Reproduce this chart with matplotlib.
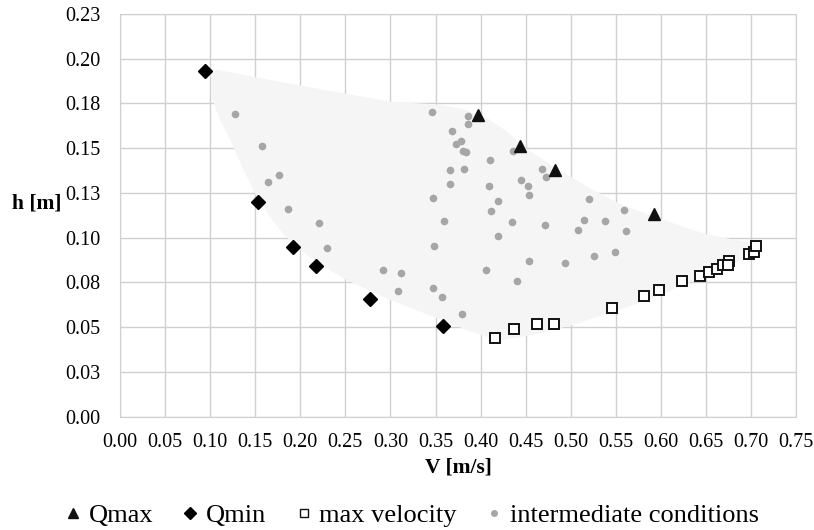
import numpy as np
import matplotlib
matplotlib.use('Agg')
import matplotlib.pyplot as plt
from matplotlib.lines import Line2D

plt.rcParams['font.family'] = ['Liberation Serif', 'DejaVu Serif']

# Qmax / Qmin / max velocity / intermediate conditions, V [m/s] vs h [m]
qmax_v = [0.397, 0.444, 0.483, 0.592]
qmax_h = [0.1685, 0.151, 0.138, 0.1132]

qmin_v = [0.094, 0.153, 0.192, 0.2175, 0.277, 0.358]
qmin_h = [0.193, 0.1197, 0.0948, 0.0843, 0.0659, 0.0508]

vmax_v = [0.416, 0.4375, 0.4627, 0.481, 0.546, 0.581, 0.598, 0.6235, 0.6435,
          0.6535, 0.662, 0.669, 0.676, 0.675, 0.698, 0.703, 0.705]
vmax_h = [0.0438, 0.0491, 0.0516, 0.0516, 0.0609, 0.0676, 0.0709, 0.0758, 0.0787,
          0.081, 0.0825, 0.0845, 0.0868, 0.0845, 0.0907, 0.0921, 0.0955]

mid_v = [0.1276, 0.158, 0.1768, 0.1642, 0.1864, 0.2212, 0.2297, 0.2922, 0.312, 0.308,
         0.3458, 0.3858, 0.3865, 0.3687, 0.3783, 0.3724, 0.3802, 0.3839, 0.4364, 0.4105,
         0.3658, 0.382, 0.4679, 0.4727, 0.3658, 0.4098, 0.4446, 0.4531, 0.4538, 0.3476,
         0.419, 0.4117, 0.5207, 0.3595, 0.4349, 0.4715, 0.5152, 0.5377, 0.5085, 0.5596,
         0.5614, 0.4195, 0.3481, 0.4538, 0.4934, 0.5262, 0.5489, 0.4057, 0.4401, 0.3476,
         0.3576, 0.3791]
mid_h = [0.1692, 0.1515, 0.1353, 0.131, 0.1161, 0.108, 0.0942, 0.0821, 0.0802, 0.0702,
         0.1701, 0.1679, 0.1636, 0.1597, 0.1543, 0.1523, 0.1482, 0.1478, 0.1482, 0.1433,
         0.1381, 0.1383, 0.1383, 0.1338, 0.1298, 0.129, 0.1322, 0.129, 0.124, 0.1223,
         0.1204, 0.115, 0.1216, 0.1091, 0.1089, 0.107, 0.11, 0.1094, 0.1041, 0.1156,
         0.1039, 0.1011, 0.0955, 0.0868, 0.0858, 0.0899, 0.092, 0.0821, 0.0756, 0.072,
         0.0667, 0.0572]

# shaded envelope of the operating range
env_v = [0.100, 0.20, 0.30, 0.35, 0.38, 0.41, 0.43, 0.45, 0.48, 0.50, 0.52, 0.55, 0.575,
         0.60, 0.625, 0.65, 0.675, 0.70, 0.706,
         0.70, 0.65, 0.60, 0.55, 0.50, 0.46, 0.42, 0.385, 0.348, 0.30, 0.2515, 0.222,
         0.198, 0.182, 0.166, 0.150, 0.135, 0.122, 0.110, 0.102]
env_h = [0.1945, 0.185, 0.176, 0.1745, 0.172, 0.166, 0.159, 0.150, 0.140, 0.134, 0.128, 0.120, 0.115,
         0.1105, 0.106, 0.102, 0.0995, 0.0975, 0.096,
         0.090, 0.079, 0.068, 0.059, 0.051, 0.046, 0.0425, 0.0484, 0.0558, 0.0652, 0.0763, 0.085,
         0.094, 0.1015, 0.112, 0.1245, 0.140, 0.155, 0.167, 0.178]

xticks = np.arange(0, 0.751, 0.05)
yticks = np.arange(0, 0.2251, 0.025)
ylabels = ['0.00', '0.03', '0.05', '0.08', '0.10', '0.13', '0.15', '0.18', '0.20', '0.23']

fig = plt.figure(figsize=(8.14, 5.30), dpi=100)
ax = fig.add_axes([0.1474, 0.2138, 0.8306, 0.7598])

ax.fill(env_v, env_h, color='#f5f5f5', lw=0, zorder=1)
ax.plot(mid_v, mid_h, 'o', ms=5.5, color='#a6a6a6', mec='none', zorder=3)
ax.plot(vmax_v, vmax_h, 's', ms=7, mfc='white', mec='#111111', mew=1.4, zorder=4)
ax.plot(qmin_v, qmin_h, 'D', ms=7.5, color='black', zorder=5)
ax.plot(qmax_v, qmax_h, '^', ms=9, color='#111111', zorder=5)

ax.set_xlim(0, 0.75)
ax.set_ylim(0, 0.225)
ax.set_xticks(xticks)
ax.set_xticklabels(['%.2f' % t for t in xticks])
ax.set_yticks(yticks)
ax.set_yticklabels(ylabels)
ax.tick_params(length=0, labelsize=14.5)
ax.tick_params(axis='x', pad=12)
ax.tick_params(axis='y', pad=14)
ax.grid(True, color='#d0d0d0', lw=1)
ax.set_axisbelow(True)
for s in ax.spines.values():
    s.set_color('#d0d0d0')

ax.set_xlabel('V [m/s]', fontsize=15.5, fontweight='bold', labelpad=4)
ax.set_ylabel('h [m]', fontsize=15.5, fontweight='bold', rotation=0, labelpad=0)
ax.yaxis.set_label_coords(-0.123, 0.505)

handles = [
    Line2D([], [], ls='none', marker='^', ms=7, color='#111111'),
    Line2D([], [], ls='none', marker='D', ms=6, color='black'),
    Line2D([], [], ls='none', marker='s', ms=6, mfc='white', mec='#111111', mew=1),
    Line2D([], [], ls='none', marker='o', ms=5, color='#a6a6a6', mec='none'),
]
labels = ['Qmax', 'Qmin', 'max velocity', 'intermediate conditions']
fig.legend(handles, labels, loc='center', bbox_to_anchor=(0.506, 0.028), ncol=4, frameon=False,
           fontsize=19, handlelength=0.6, handletextpad=0.3, columnspacing=1.1)

fig.savefig('out.png', dpi=100)
